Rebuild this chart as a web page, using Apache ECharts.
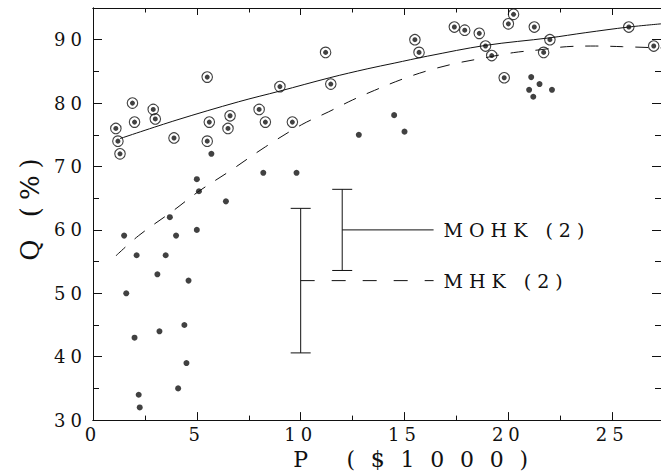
<!DOCTYPE html>
<html><head><meta charset="utf-8">
<script src="https://cdn.jsdelivr.net/npm/echarts@6/dist/echarts.min.js"></script>
<style>
html,body{margin:0;padding:0;background:#fff;}
#c{width:661px;height:475px;}
text[style*="xqa"]{letter-spacing:5px;}
text[style*="xqb"]{letter-spacing:6px;}
text[style*="xqc"]{letter-spacing:15.75px;}
text[style*="xqd"]{letter-spacing:7px;}
</style></head><body><div id="c"></div>
<script>
// Circled points (P in $1000, Q in %)
const circledP = [1.1, 1.2, 1.3, 1.9, 2.0, 2.9, 3.0, 3.9, 5.5, 5.6, 5.5, 6.6, 6.5, 8.0, 8.3, 9.0, 9.6, 11.2, 11.45, 15.5, 15.7, 17.4, 17.9, 18.6, 18.9, 19.2, 19.8, 20.0, 20.25, 21.25, 22.0, 21.7, 25.8, 27.0];
const circledQ = [76.0, 74.0, 72.0, 80.0, 77.0, 79.0, 77.5, 74.5, 84.1, 77.0, 74.0, 78.0, 76.0, 79.0, 77.0, 82.6, 77.0, 88.0, 83.0, 90.0, 88.0, 92.0, 91.5, 91.0, 89.0, 87.5, 84.0, 92.5, 94.0, 92.0, 90.0, 88.0, 92.0, 89.0];
// Plain dots
const dotP = [1.5, 1.6, 2.0, 2.1, 2.2, 2.25, 3.1, 3.2, 3.5, 3.7, 4.0, 4.1, 4.4, 4.5, 4.6, 5.0, 5.0, 5.1, 5.7, 6.4, 8.2, 9.8, 12.8, 14.5, 15.0, 21.0, 21.1, 21.2, 21.5, 22.1];
const dotQ = [59.1, 50.0, 43.0, 56.0, 34.0, 32.0, 53.0, 44.0, 56.0, 62.0, 59.1, 35.0, 45.0, 39.0, 52.0, 68.0, 60.0, 66.1, 72.0, 64.5, 69.0, 69.0, 75.0, 78.1, 75.5, 82.1, 84.1, 81.0, 83.0, 82.1];
// MOHK fit curve (solid)
const mohkFitP = [1.3, 4.0, 7.0, 9.0, 11.4, 13.2, 14.5, 16.1, 18.9, 22.0, 23.7, 25.8, 27.35];
const mohkFitQ = [74.4, 77.3, 80.2, 81.9, 84.0, 85.4, 86.3, 87.4, 89.1, 90.3, 91.1, 92.0, 92.5];
// MHK fit curve (dashed)
const mhkFitP = [1.1, 2.2, 3.85, 5.1, 6.55, 8.3, 10.05, 11.33, 12.5, 13.55, 14.83, 16.1, 17.45, 18.8, 20.24, 21.5, 22.8, 24.2, 25.5, 27.35];
const mhkFitQ = [55.9, 59.1, 63.0, 66.1, 69.2, 73.1, 76.6, 78.6, 80.5, 82.0, 83.7, 85.1, 86.25, 87.1, 87.96, 88.4, 88.9, 89.0, 88.9, 88.7];
// Error-bar key
const barLabels = ['MHK (2)', 'MOHK (2)'];
const barDashed = [1, 0];
const barP = [10.0, 12.0];
const barLow = [40.6, 53.6];
const barHigh = [63.4, 66.4];
const barMid = [52.0, 60.0];
const keyEndP = [16.4, 16.4];
// Tick labels
const xTickLabels = [0, 5, 10, 15, 20, 25];
const yTickLabels = [30, 40, 50, 60, 70, 80, 90];

const ink = '#111';
const FT = "'DejaVu Serif', xqa";
const XMAX = 27.35, YMIN = 30, YMAX = 95;

function mkX(pos, interval, len, labels, extra) {
  return Object.assign({
    type: 'value', min: 0, max: XMAX, interval: interval, position: pos,
    axisLine: { show: true, onZero: false, lineStyle: { color: ink, width: 1 } },
    axisTick: { show: true, inside: true, length: len, lineStyle: { color: ink, width: 1 } },
    splitLine: { show: false },
    axisLabel: labels ? {
      show: true, margin: 5, color: ink, fontSize: 18, fontFamily: FT,
      showMaxLabel: false,
      formatter: v => xTickLabels.indexOf(v) >= 0 ? String(v) : ''
    } : { show: false }
  }, extra || {});
}
function mkY(pos, interval, len, labels, extra) {
  return Object.assign({
    type: 'value', min: YMIN, max: YMAX, interval: interval, position: pos,
    axisLine: { show: true, onZero: false, lineStyle: { color: ink, width: 1 } },
    axisTick: { show: true, inside: true, length: len, lineStyle: { color: ink, width: 1 } },
    splitLine: { show: false },
    axisLabel: labels ? {
      show: true, margin: 6, color: ink, fontSize: 18, fontFamily: FT,
      showMaxLabel: false,
      formatter: v => yTickLabels.indexOf(v) >= 0 ? String(v) : ''
    } : { show: false }
  }, extra || {});
}

const chart = echarts.init(document.getElementById('c'), null, { renderer: 'svg' });
chart.setOption({
  animation: false,
  backgroundColor: '#fff',
  grid: { left: 93, right: -5, top: 8, bottom: 51, containLabel: false },
  xAxis: [
    mkX('bottom', 5, 8, true, {
      name: 'P ($1000)', nameLocation: 'middle', nameGap: 22,
      nameTextStyle: { color: ink, fontSize: 22, fontFamily: "'DejaVu Serif', xqc", padding: [0, 0, 0, 83] }
    }),
    mkX('bottom', 2.5, 4.5, false),
    mkX('top', 5, 7, false),
    mkX('top', 2.5, 4.5, false)
  ],
  yAxis: [
    mkY('left', 10, 9, true, {
      name: 'Q (%)', nameLocation: 'middle', nameGap: 50, nameRotate: 90,
      nameTextStyle: { color: ink, fontSize: 26, fontFamily: "'DejaVu Serif', xqd", padding: [0, 0, 0, 16] }
    }),
    mkY('left', 5, 6, false),
    mkY('right', 10, 9, false),
    mkY('right', 5, 6, false)
  ],
  series: [
    {
      type: 'line', xAxisIndex: 0, yAxisIndex: 0, smooth: 0.35, showSymbol: false, silent: true,
      data: mohkFitP.map((p, i) => [p, mohkFitQ[i]]),
      lineStyle: { color: ink, width: 1 }
    },
    {
      type: 'line', xAxisIndex: 0, yAxisIndex: 0, smooth: 0.35, showSymbol: false, silent: true,
      data: mhkFitP.map((p, i) => [p, mhkFitQ[i]]),
      lineStyle: { color: ink, width: 1, type: [13, 12] }
    },
    {
      type: 'scatter', xAxisIndex: 0, yAxisIndex: 0, symbol: 'circle', symbolSize: 10.5, silent: true,
      data: circledP.map((p, i) => [p, circledQ[i]]),
      itemStyle: { color: 'rgba(0,0,0,0)', borderColor: ink, borderWidth: 1.1 }
    },
    {
      type: 'scatter', xAxisIndex: 0, yAxisIndex: 0, symbol: 'circle', symbolSize: 5, silent: true,
      data: circledP.map((p, i) => [p, circledQ[i]]),
      itemStyle: { color: ink }
    },
    {
      type: 'scatter', xAxisIndex: 0, yAxisIndex: 0, symbol: 'circle', symbolSize: 6, silent: true,
      data: dotP.map((p, i) => [p, dotQ[i]]),
      itemStyle: { color: ink }
    },
    {
      type: 'custom', xAxisIndex: 0, yAxisIndex: 0, silent: true,
      data: barP.map((p, i) => [p, barLow[i], barHigh[i], barMid[i], keyEndP[i], barDashed[i]]),
      renderItem: function (params, api) {
        const i = params.dataIndex;
        const x = api.value(0), lo = api.value(1), hi = api.value(2), mid = api.value(3), end = api.value(4);
        const dashed = api.value(5) === 1;
        const pT = api.coord([x, hi]), pB = api.coord([x, lo]), pM = api.coord([x, mid]), pE = api.coord([end, mid]);
        const cap = 10;
        const st = { stroke: ink, lineWidth: 1 };
        return {
          type: 'group',
          children: [
            { type: 'line', shape: { x1: pT[0], y1: pT[1], x2: pB[0], y2: pB[1] }, style: st },
            { type: 'line', shape: { x1: pT[0] - cap, y1: pT[1], x2: pT[0] + cap, y2: pT[1] }, style: st },
            { type: 'line', shape: { x1: pB[0] - cap, y1: pB[1], x2: pB[0] + cap, y2: pB[1] }, style: st },
            { type: 'line', shape: { x1: pM[0], y1: pM[1], x2: pE[0], y2: pE[1] },
              style: { stroke: ink, lineWidth: 1, lineDash: dashed ? [14, 17] : null } },
            { type: 'text', style: {
                text: barLabels[i], x: pE[0] + 10, y: pE[1],
                font: "19px 'DejaVu Serif', xqb", fill: ink,
                align: 'left', verticalAlign: 'middle', textAlign: 'left', textVerticalAlign: 'middle'
              } }
          ]
        };
      }
    }
  ]
});
</script></body></html>
